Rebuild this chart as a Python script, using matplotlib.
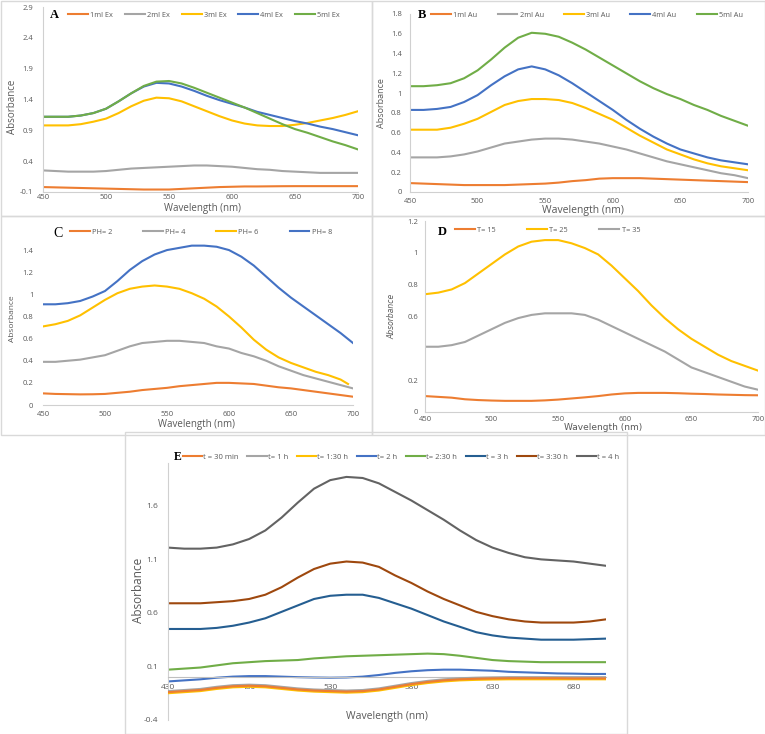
import numpy as np
import matplotlib
matplotlib.use('Agg')
import matplotlib.pyplot as plt
from matplotlib.patches import Rectangle
from matplotlib.ticker import FixedLocator, FuncFormatter

plt.rcParams['font.family'] = 'Open Sans'

# ---- data ----
wl = list(range(450, 701, 10))          # panels A-D
wl_e = list(range(430, 701, 10))        # panel E

# A: extract volume
a_labels = ['1ml Ex', '2ml Ex', '3ml Ex', '4ml Ex', '5ml Ex']
a_1ml = [-0.02, -0.025, -0.03, -0.035, -0.04, -0.045, -0.05, -0.055, -0.06, -0.06, -0.06, -0.05, -0.04,
         -0.03, -0.02, -0.015, -0.01, -0.01, -0.008, -0.006, -0.005, -0.005, -0.005, -0.005, -0.005, -0.005]
a_2ml = [0.25, 0.24, 0.23, 0.23, 0.23, 0.24, 0.26, 0.28, 0.29, 0.30, 0.31, 0.32, 0.33,
         0.33, 0.32, 0.31, 0.29, 0.27, 0.26, 0.24, 0.23, 0.22, 0.21, 0.21, 0.21, 0.21]
a_3ml = [0.98, 0.98, 0.98, 1.00, 1.04, 1.09, 1.18, 1.29, 1.38, 1.43, 1.42, 1.37, 1.29,
         1.21, 1.13, 1.06, 1.01, 0.98, 0.97, 0.97, 0.99, 1.02, 1.06, 1.10, 1.15, 1.21]
a_4ml = [1.12, 1.12, 1.12, 1.14, 1.18, 1.25, 1.37, 1.50, 1.61, 1.67, 1.66, 1.61, 1.54,
         1.46, 1.39, 1.33, 1.27, 1.20, 1.15, 1.10, 1.05, 1.01, 0.96, 0.92, 0.87, 0.82]
a_5ml = [1.12, 1.12, 1.12, 1.14, 1.18, 1.25, 1.37, 1.50, 1.62, 1.69, 1.70, 1.66, 1.59,
         1.51, 1.43, 1.35, 1.27, 1.18, 1.09, 1.00, 0.92, 0.86, 0.79, 0.72, 0.66, 0.59]

# B: Au volume
b_labels = ['1ml Au', '2ml Au', '3ml Au', '4ml Au', '5ml Au']
b_1ml = [0.09, 0.085, 0.08, 0.075, 0.07, 0.07, 0.07, 0.07, 0.075, 0.08, 0.085, 0.095, 0.11,
         0.12, 0.135, 0.14, 0.14, 0.14, 0.135, 0.13, 0.125, 0.12, 0.115, 0.11, 0.105, 0.10]
b_2ml = [0.35, 0.35, 0.35, 0.36, 0.38, 0.41, 0.45, 0.49, 0.51, 0.53, 0.54, 0.54, 0.53,
         0.51, 0.49, 0.46, 0.43, 0.39, 0.35, 0.31, 0.28, 0.25, 0.22, 0.19, 0.17, 0.14]
b_3ml = [0.63, 0.63, 0.63, 0.65, 0.69, 0.74, 0.81, 0.88, 0.92, 0.94, 0.94, 0.93, 0.90,
         0.85, 0.79, 0.73, 0.65, 0.57, 0.50, 0.43, 0.38, 0.33, 0.29, 0.26, 0.24, 0.22]
b_4ml = [0.83, 0.83, 0.84, 0.86, 0.91, 0.98, 1.08, 1.17, 1.24, 1.27, 1.24, 1.18, 1.10,
         1.01, 0.92, 0.83, 0.73, 0.64, 0.56, 0.49, 0.43, 0.39, 0.35, 0.32, 0.30, 0.28]
b_5ml = [1.07, 1.07, 1.08, 1.10, 1.15, 1.23, 1.34, 1.46, 1.56, 1.61, 1.60, 1.57, 1.51,
         1.44, 1.36, 1.28, 1.20, 1.12, 1.05, 0.99, 0.94, 0.88, 0.83, 0.77, 0.72, 0.67]

# C: pH
c_labels = ['PH= 2', 'PH= 4', 'PH= 6', 'PH= 8']
wl_ph6 = wl[:-1] + [696]
c_ph2 = [0.105, 0.10, 0.098, 0.096, 0.097, 0.10, 0.11, 0.12, 0.135, 0.145, 0.155, 0.17, 0.18,
         0.19, 0.20, 0.20, 0.195, 0.19, 0.175, 0.16, 0.15, 0.135, 0.12, 0.105, 0.09, 0.075]
c_ph4 = [0.39, 0.39, 0.40, 0.41, 0.43, 0.45, 0.49, 0.53, 0.56, 0.57, 0.58, 0.58, 0.57,
         0.56, 0.53, 0.51, 0.47, 0.44, 0.40, 0.35, 0.31, 0.27, 0.24, 0.21, 0.18, 0.15]
c_ph6 = [0.71, 0.73, 0.76, 0.81, 0.88, 0.95, 1.01, 1.05, 1.07, 1.08, 1.07, 1.05, 1.01,
         0.96, 0.89, 0.80, 0.70, 0.59, 0.50, 0.43, 0.38, 0.34, 0.30, 0.27, 0.23, 0.19]
c_ph8 = [0.91, 0.91, 0.92, 0.94, 0.98, 1.03, 1.12, 1.22, 1.30, 1.36, 1.40, 1.42, 1.44,
         1.44, 1.43, 1.40, 1.34, 1.26, 1.16, 1.06, 0.97, 0.89, 0.81, 0.73, 0.65, 0.56]

# D: temperature
d_labels = ['T= 15', 'T= 25', 'T= 35']
d_t15 = [0.10, 0.095, 0.09, 0.08, 0.075, 0.072, 0.07, 0.07, 0.07, 0.073, 0.078, 0.085, 0.092,
         0.10, 0.11, 0.117, 0.12, 0.12, 0.12, 0.118, 0.115, 0.113, 0.11, 0.108, 0.106, 0.105]
d_t25 = [0.74, 0.75, 0.77, 0.81, 0.87, 0.93, 0.99, 1.04, 1.07, 1.08, 1.08, 1.06, 1.03,
         0.99, 0.92, 0.84, 0.76, 0.67, 0.59, 0.52, 0.46, 0.41, 0.36, 0.32, 0.29, 0.26]
d_t35 = [0.41, 0.41, 0.42, 0.44, 0.48, 0.52, 0.56, 0.59, 0.61, 0.62, 0.62, 0.62, 0.61,
         0.58, 0.54, 0.50, 0.46, 0.42, 0.38, 0.33, 0.28, 0.25, 0.22, 0.19, 0.16, 0.14]

# E: time
e_labels = ['t = 30 min', 't= 1 h', 't= 1:30 h', 't= 2 h', 't= 2:30 h', 't = 3 h', 't= 3:30 h', 't = 4 h']
e_30m = [-0.14, -0.13, -0.12, -0.10, -0.085, -0.08, -0.085, -0.10, -0.115, -0.125, -0.13, -0.135, -0.13, -0.115,
         -0.09, -0.065, -0.045, -0.03, -0.02, -0.015, -0.012, -0.01, -0.01, -0.01, -0.01, -0.012, -0.012, -0.012]
e_1h = [-0.13, -0.12, -0.11, -0.09, -0.075, -0.07, -0.075, -0.09, -0.105, -0.115, -0.12, -0.125, -0.12, -0.105,
        -0.08, -0.055, -0.035, -0.02, -0.01, -0.005, -0.002, 0.0, 0.0, 0.0, 0.0, 0.0, 0.0, 0.0]
e_130h = [-0.15, -0.14, -0.13, -0.11, -0.095, -0.09, -0.095, -0.11, -0.125, -0.135, -0.14, -0.145, -0.14, -0.125,
          -0.10, -0.075, -0.055, -0.04, -0.03, -0.025, -0.022, -0.02, -0.02, -0.02, -0.02, -0.02, -0.02, -0.02]
e_2h = [-0.04, -0.03, -0.02, -0.005, 0.005, 0.01, 0.01, 0.005, 0.0, -0.003, -0.005, -0.003, 0.005, 0.02,
        0.04, 0.055, 0.065, 0.07, 0.07, 0.065, 0.06, 0.05, 0.045, 0.04, 0.035, 0.033, 0.03, 0.03]
e_230h = [0.07, 0.08, 0.09, 0.11, 0.13, 0.14, 0.15, 0.155, 0.16, 0.175, 0.185, 0.195, 0.20, 0.205,
          0.21, 0.215, 0.22, 0.215, 0.20, 0.18, 0.16, 0.15, 0.145, 0.14, 0.14, 0.14, 0.14, 0.14]
e_3h = [0.45, 0.45, 0.45, 0.46, 0.48, 0.51, 0.55, 0.61, 0.67, 0.73, 0.76, 0.77, 0.77, 0.74,
        0.69, 0.64, 0.58, 0.52, 0.47, 0.42, 0.39, 0.37, 0.36, 0.35, 0.35, 0.35, 0.355, 0.36]
e_330h = [0.69, 0.69, 0.69, 0.70, 0.71, 0.73, 0.77, 0.84, 0.93, 1.01, 1.06, 1.08, 1.07, 1.03,
          0.95, 0.88, 0.80, 0.73, 0.67, 0.61, 0.57, 0.54, 0.52, 0.51, 0.51, 0.51, 0.52, 0.54]
e_4h = [1.21, 1.20, 1.20, 1.21, 1.24, 1.29, 1.37, 1.49, 1.63, 1.76, 1.84, 1.87, 1.86, 1.81,
        1.73, 1.65, 1.56, 1.47, 1.37, 1.28, 1.21, 1.16, 1.12, 1.10, 1.09, 1.08, 1.06, 1.04]

# excel office colours
ORANGE, GRAY, YELLOW, BLUE, GREEN = '#ED7D31', '#A5A5A5', '#FFC000', '#4472C4', '#70AD47'
DBLUE, BROWN, DGRAY = '#255E91', '#9E480E', '#636363'
TXT = '#595959'
AXC = '#d0d0d0'

W, H = 765, 734
fig = plt.figure(figsize=(W / 100, H / 100), dpi=100)
fig.patch.set_facecolor('white')


def px_axes(l, t, r, b):
    return fig.add_axes([l / W, 1 - b / H, (r - l) / W, (b - t) / H])


def fx(x):
    return x / W


def fy(y):
    return 1 - y / H


def frame(l, t, r, b):
    fig.add_artist(Rectangle((fx(l), fy(b)), fx(r) - fx(l), fy(t) - fy(b), transform=fig.transFigure,
                             fill=False, edgecolor='#d9d9d9', lw=1))


def style(ax, xlim, ylim, xt, yt, xpad, ypad, size=5.5, left=True, bottom=True):
    ax.set_xlim(*xlim)
    ax.set_ylim(*ylim)
    ax.xaxis.set_major_locator(FixedLocator(xt))
    ax.yaxis.set_major_locator(FixedLocator(yt))
    fmt = FuncFormatter(lambda v, p: '%g' % v)
    ax.xaxis.set_major_formatter(fmt)
    ax.yaxis.set_major_formatter(fmt)
    ax.tick_params(axis='x', length=0, labelsize=size, labelcolor=TXT, pad=xpad)
    ax.tick_params(axis='y', length=0, labelsize=size, labelcolor=TXT, pad=ypad)
    for s in ['top', 'right']:
        ax.spines[s].set_visible(False)
    ax.spines['left'].set_visible(left)
    ax.spines['bottom'].set_visible(bottom)
    ax.spines['left'].set_color(AXC)
    ax.spines['bottom'].set_color(AXC)
    ax.patch.set_alpha(0)


def legend(ax, x0, x1, yc, fs, hl, htp):
    lg = ax.legend(ncol=len(ax.get_lines()), mode='expand', loc='center', frameon=False,
                   bbox_to_anchor=(fx(x0), fy(yc + 6), fx(x1) - fx(x0), 12 / H),
                   bbox_transform=fig.transFigure, fontsize=fs, handlelength=hl,
                   handletextpad=htp, borderpad=0, borderaxespad=0)
    for t in lg.get_texts():
        t.set_color(TXT)


LW = 1.5

# frames
frame(0.5, 1, 372, 216)
frame(372, 1, 764.5, 216)
frame(0.5, 216, 372, 435)
frame(372, 216, 764.5, 435)
frame(125, 432, 627, 733.5)

# ---- A ----
axA = px_axes(43, 7, 358, 192)
for ys, lab, c in zip([a_1ml, a_2ml, a_3ml, a_4ml, a_5ml], a_labels, [ORANGE, GRAY, YELLOW, BLUE, GREEN]):
    axA.plot(wl, ys, color=c, lw=LW, label=lab)
style(axA, (450, 700), (-0.1, 2.9), [450, 500, 550, 600, 650, 700],
      [-0.1, 0.4, 0.9, 1.4, 1.9, 2.4, 2.9], 1.5, 7)
legend(axA, 68, 340, 15, 5.3, 2.7, 0.3)
fig.text(fx(50), fy(15), 'A', family='Liberation Serif', weight='bold', size=9, va='center')
fig.text(fx(202), fy(209), 'Wavelength (nm)', size=7, color=TXT, ha='center', va='center')
fig.text(fx(13), fy(107), 'Absorbance', size=7, color=TXT, ha='center', va='center', rotation=90)

# ---- B ----
axB = px_axes(410, 14, 748, 192)
for ys, lab, c in zip([b_1ml, b_2ml, b_3ml, b_4ml, b_5ml], b_labels, [ORANGE, GRAY, YELLOW, BLUE, GREEN]):
    axB.plot(wl, ys, color=c, lw=LW, label=lab)
style(axB, (450, 700), (0, 1.8), [450, 500, 550, 600, 650, 700],
      [0, 0.2, 0.4, 0.6, 0.8, 1, 1.2, 1.4, 1.6, 1.8], 4, 6)
legend(axB, 431, 743, 15, 5.3, 2.7, 0.3)
fig.text(fx(418), fy(15), 'B', family='Liberation Serif', weight='bold', size=9, va='center')
fig.text(fx(583), fy(210), 'Wavelength (nm)', size=7.5, color=TXT, ha='center', va='center')
fig.text(fx(381), fy(103), 'Absorbance', size=6.5, color=TXT, ha='center', va='center', rotation=90)

# ---- C ----
axC = px_axes(43, 239, 353, 405)
for xs, ys, lab, c in zip([wl, wl, wl_ph6, wl], [c_ph2, c_ph4, c_ph6, c_ph8], c_labels,
                          [ORANGE, GRAY, YELLOW, BLUE]):
    axC.plot(xs, ys, color=c, lw=LW, label=lab)
style(axC, (450, 700), (0, 1.5), [450, 500, 550, 600, 650, 700],
      [0, 0.2, 0.4, 0.6, 0.8, 1, 1.2, 1.4], 4, 7, left=False)
legend(axC, 70, 332, 232, 5.3, 2.7, 0.3)
fig.text(fx(53), fy(234), 'C', family='Liberation Serif', size=10, va='center')
fig.text(fx(197), fy(425), 'Wavelength (nm)', size=7, color=TXT, ha='center', va='center')
fig.text(fx(13), fy(319), 'Absorbance', size=6, color=TXT, ha='center', va='center', rotation=90)

# ---- D ----
axD = px_axes(425, 221, 758, 412)
for ys, lab, c in zip([d_t15, d_t25, d_t35], d_labels, [ORANGE, YELLOW, GRAY]):
    axD.plot(wl, ys, color=c, lw=LW, label=lab)
style(axD, (450, 700), (0, 1.2), [450, 500, 550, 600, 650, 700],
      [0, 0.2, 0.6, 0.8, 1, 1.2], 3, 5)
legend(axD, 455, 640, 230, 5.3, 2.7, 0.3)
fig.text(fx(438), fy(232), 'D', family='Liberation Serif', weight='bold', size=9, va='center')
fig.text(fx(603), fy(428), 'Wavelength (nm)', family='DejaVu Sans', size=6.5, color=TXT, ha='center',
         va='center')
fig.text(fx(392), fy(316), 'Absorbance', family='Liberation Sans Narrow', style='italic', size=5.5, color=TXT,
         ha='center', va='center', rotation=90)

# ---- E ----
axE = px_axes(168, 463, 606, 720)
e_series = [e_30m, e_1h, e_130h, e_2h, e_230h, e_3h, e_330h, e_4h]
e_cols = [ORANGE, GRAY, YELLOW, BLUE, GREEN, DBLUE, BROWN, DGRAY]
e_z = [4, 3, 3.5, 2, 2, 2, 2, 2]
for ys, lab, c, z in zip(e_series, e_labels, e_cols, e_z):
    axE.plot(wl_e, ys, color=c, lw=LW, label=lab, zorder=z)
style(axE, (430, 700), (-0.4, 2.0), [430, 480, 530, 580, 630, 680],
      [-0.4, 0.1, 0.6, 1.1, 1.6], 5, 7, size=6)
axE.spines['bottom'].set_position(('data', 0))
axE.spines['bottom'].set_color('#bfbfbf')
legend(axE, 183, 619, 457, 5.5, 2.5, 0.15)
fig.text(fx(174), fy(457), 'E', family='Liberation Serif', weight='bold', size=8.5, va='center')
fig.text(fx(387), fy(717), 'Wavelength (nm)', size=7.5, color=TXT, ha='center', va='center')
fig.text(fx(139), fy(590), 'Absorbance', size=8.5, color=TXT, ha='center', va='center', rotation=90)

fig.savefig('out.png', dpi=100, facecolor='white')
